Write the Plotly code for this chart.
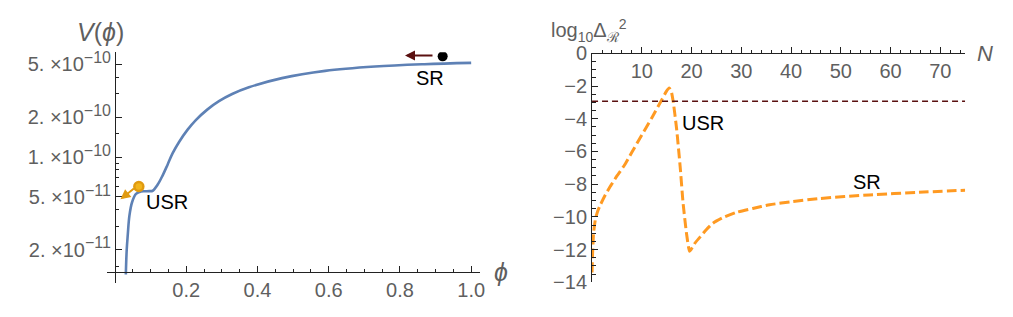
import math
import plotly.graph_objects as go

# page is 1013x317; the browser body keeps its default 8px margin,
# so the figure itself is 16px smaller and every pixel below is page-pixel minus 8
PAGE_W, PAGE_H, OFF = 1013, 317, 8
W, H = PAGE_W - 2 * OFF, PAGE_H - 2 * OFF

# ---------------- data: left panel (potential) ----------------
phi = [0.0305, 0.033, 0.036, 0.0405, 0.048, 0.059, 0.073, 0.085, 0.096, 0.106,
       0.120, 0.134, 0.148, 0.162, 0.180, 0.204, 0.227, 0.259, 0.292, 0.329, 0.376,
       0.469, 0.590, 0.730, 0.869, 1.000]
V = [1.30e-11, 2.00e-11, 2.60e-11, 3.60e-11, 4.56e-11, 5.27e-11, 5.50e-11, 5.52e-11,
     5.53e-11, 5.57e-11, 6.20e-11, 7.28e-11, 8.80e-11, 1.07e-10, 1.30e-10, 1.61e-10,
     1.90e-10, 2.28e-10, 2.64e-10, 2.99e-10, 3.36e-10, 3.94e-10, 4.47e-10, 4.82e-10,
     5.02e-10, 5.14e-10]

SUP = '<sup><span style="font-size:16px">{}</span></sup>'
V_ticks = [2e-11, 5e-11, 1e-10, 2e-10, 5e-10]
V_ticktext = ["2. ×10" + SUP.format("−11"), "5. ×10" + SUP.format("−11"),
              "1. ×10" + SUP.format("−10"), "2. ×10" + SUP.format("−10"),
              "5. ×10" + SUP.format("−10")]
V_minor = [1.5e-11, 3e-11, 4e-11, 6e-11, 7e-11, 8e-11, 9e-11, 1.5e-10, 3e-10, 4e-10]
phi_ticks = [0.2, 0.4, 0.6, 0.8, 1.0]
phi_ticktext = ["0.2", "0.4", "0.6", "0.8", "1.0"]
phi_minor = [0.05, 0.1, 0.15, 0.25, 0.3, 0.35, 0.45, 0.5, 0.55, 0.65, 0.7, 0.75, 0.85, 0.9, 0.95]

usr_point = (0.067, 6.0e-11)
sr_point = (0.920, 5.75e-10)

# ---------------- data: right panel (power spectrum) ----------------
N = [0.0, 0.1, 0.3, 0.7, 1.2, 1.7, 2.6, 3.7, 5.0, 6.5, 8.0, 10.0, 12.0, 14.0, 15.0,
     15.5, 15.9, 16.3, 17.0, 17.7, 18.3, 19.0, 19.6, 20.0, 20.7, 21.7, 23.0, 24.3,
     26.3, 29.0, 32.3, 35.7, 40.3, 45.7, 55.7, 65.7, 75.0]
logP = [-13.4, -12.3, -11.0, -10.1, -9.6, -9.25, -8.7, -8.12, -7.5, -6.85, -6.05,
        -5.0, -3.95, -2.85, -2.3, -2.12, -2.3, -2.93, -4.63, -6.9, -9.17, -11.05,
        -12.1, -11.95, -11.6, -11.24, -10.77, -10.39, -10.05, -9.73, -9.49, -9.26,
        -9.07, -8.88, -8.66, -8.50, -8.37]
threshold = -2.93
P_ticks = [0, -2, -4, -6, -8, -10, -12, -14]
P_ticktext = ["0", "−2", "−4", "−6", "−8", "−10", "−12", "−14"]
N_ticks = [10, 20, 30, 40, 50, 60, 70]

def px(x):
    return (x - OFF) / W

def py(y):
    return 1 - (y - OFF) / H

FONT = "Liberation Sans, Arial, sans-serif"
GRAY = "#5f5f5f"
AX = "#222222"

fig = go.Figure()

fig.add_trace(go.Scatter(x=phi, y=V, mode="lines", line=dict(color="#5E81B5", width=2.6, shape="spline"),
                         xaxis="x", yaxis="y", showlegend=False, hoverinfo="skip"))
fig.add_trace(go.Scatter(x=[usr_point[0]], y=[usr_point[1]], mode="markers",
                         marker=dict(color="#F2B51C", size=9, line=dict(color="#E09A10", width=2.5)),
                         xaxis="x", yaxis="y", showlegend=False))
fig.add_trace(go.Scatter(x=[sr_point[0]], y=[sr_point[1]], mode="markers",
                         marker=dict(color="black", size=10),
                         xaxis="x", yaxis="y", showlegend=False))

fig.add_trace(go.Scatter(x=N, y=logP, mode="lines",
                         line=dict(color="#FF9A22", width=3, dash="10px,4px", shape="spline", smoothing=0.5),
                         xaxis="x2", yaxis="y2", showlegend=False, hoverinfo="skip"))
fig.add_trace(go.Scatter(x=[0, 75], y=[threshold, threshold], mode="lines",
                         line=dict(color="#5A1010", width=1.6, dash="6px,4px"),
                         xaxis="x2", yaxis="y2", showlegend=False, hoverinfo="skip"))

x0_px, sx = 115.5, 358.0
yl_top, yl_bot = 44, 293
ref_px, ref_log, dec = 57.0, math.log10(5e-10), 143.0

def ylog(p):
    return ref_log - (p - ref_px) / dec

tickfont = dict(family=FONT, size=20, color=GRAY)

fig.update_layout(
    width=W, height=H, margin=dict(l=0, r=0, t=0, b=0), autosize=False,
    plot_bgcolor="white", paper_bgcolor="white", showlegend=False,
    xaxis=dict(domain=[px(108), px(482)], range=[(108 - x0_px) / sx, (482 - x0_px) / sx],
               anchor="free", position=py(281), showline=True, linecolor=AX, linewidth=1,
               showgrid=False, zeroline=False, ticks="inside", ticklen=6, tickcolor=AX,
               tickvals=phi_ticks, ticktext=phi_ticktext, tickfont=tickfont,
               minor=dict(tickvals=phi_minor, ticks="inside", ticklen=3.5, tickcolor=AX)),
    yaxis=dict(type="log", domain=[py(yl_bot), py(yl_top)], range=[ylog(yl_bot), ylog(yl_top)],
               anchor="free", position=px(x0_px), showline=True, linecolor=AX, linewidth=1,
               showgrid=False, zeroline=False, ticks="inside", ticklen=6, tickcolor=AX,
               tickvals=V_ticks, ticktext=V_ticktext, tickfont=tickfont,
               minor=dict(tickvals=V_minor, ticks="inside", ticklen=3.5, tickcolor=AX)),
    xaxis2=dict(domain=[px(594), px(970)], range=[(594 - 595) / 5.0, 75],
                anchor="free", position=py(45), showline=True, linecolor=AX, linewidth=1,
                showgrid=False, zeroline=False, ticks="inside", ticklen=6, tickcolor=AX,
                tickvals=N_ticks, tickfont=tickfont,
                minor=dict(dtick=2, tick0=0, ticks="inside", ticklen=3.5, tickcolor=AX)),
    yaxis2=dict(domain=[py(292), py(45)], range=[-14, 0],
                anchor="free", position=px(594), showline=True, linecolor=AX, linewidth=1,
                showgrid=False, zeroline=False, ticks="inside", ticklen=6, tickcolor=AX,
                tickvals=P_ticks, ticktext=P_ticktext, tickfont=tickfont,
                minor=dict(dtick=0.5, tick0=0, ticks="inside", ticklen=3.5, tickcolor=AX)),
)

ann = []
def note(x, y, text, size, color, xref="paper", yref="paper"):
    ann.append(dict(xref=xref, yref=yref, x=x, y=y, text=text, showarrow=False,
                    xanchor="center", yanchor="middle",
                    font=dict(family=FONT, size=size, color=color)))

note(px(101), py(22), "<i>V</i>(<i>ϕ</i>)", 25, GRAY)
note(px(503), py(281), "<i>ϕ</i>", 25, GRAY)
note(px(592), py(20), "log<sub>10</sub>Δ<sub>ℛ</sub><sup>2</sup>", 20, GRAY)
note(px(990), py(45), "<i>N</i>", 22, GRAY)
note((168 - x0_px) / sx, ylog(205), "USR", 20, "black", "x", "y")
note((431.7 - x0_px) / sx, ylog(72), "SR", 20, "black", "x", "y")
note(22.3, -4.25, "USR", 20, "black", "x2", "y2")
note(55.3, -7.84, "SR", 20, "black", "x2", "y2")
ann.append(dict(xref="x", yref="y", x=(121 - x0_px) / sx, y=ylog(202.5), ax=15, ay=-12,
                axref="pixel", ayref="pixel", text="", showarrow=True, arrowhead=2,
                arrowsize=1, arrowwidth=2, arrowcolor="#E09A10"))
ann.append(dict(xref="x", yref="y", x=(407 - x0_px) / sx, y=ylog(47.5), ax=29, ay=0,
                axref="pixel", ayref="pixel", text="", showarrow=True, arrowhead=2,
                arrowsize=1, arrowwidth=2, arrowcolor="#5A1010"))
fig.update_layout(annotations=ann)

fig.write_html("out.html", config={"displayModeBar": False})
